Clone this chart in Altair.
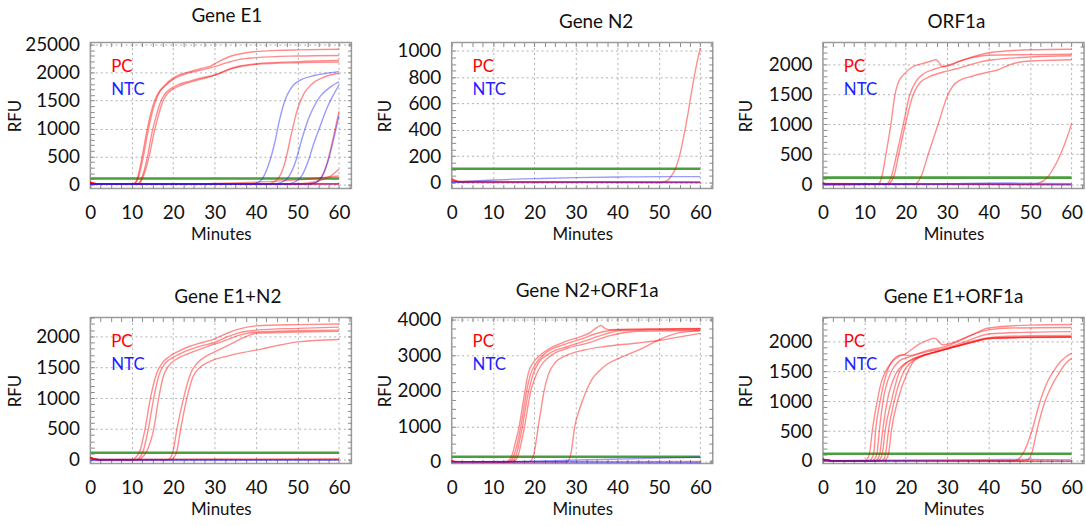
import altair as alt
import pandas as pd

FONT = "Lato"
RED = "#ff0000"
BLUE = "#1f1fff"
GREEN = "#4a9e3f"
FRAME = "#9a9a9a"
PANEL_W = 263
PANEL_H = 147

# ---------------- shared x axis (minutes) ----------------
MINUTES_TICKS = [0, 10, 20, 30, 40, 50, 60]
MINUTES_MINOR = [i * 2.5 for i in range(26)]
THRESHOLD_SPAN = [0, 60]

# ---------------- Gene E1 ----------------
E1_PC_1 = [(0, 40), (1, 15), (3, 5), (10, 5), (10.8, 30), (11.5, 150), (12.5, 500), (13.5, 900), (14.5, 1250),
           (15.5, 1500), (16.5, 1650), (17.5, 1740), (19, 1850), (21, 1950), (24, 2020), (27, 2080), (29, 2120),
           (31, 2200), (34, 2300), (37, 2350), (40, 2380), (45, 2400), (50, 2410), (60, 2420)]
E1_PC_2 = [(0, 40), (1, 15), (3, 5), (10, 5), (11, 30), (11.7, 150), (12.8, 500), (13.8, 900), (14.8, 1250),
           (15.8, 1500), (16.8, 1660), (18, 1760), (20, 1880), (23, 1980), (27, 2050), (30, 2110), (33, 2180),
           (36, 2240), (40, 2270), (50, 2300), (60, 2310)]
E1_PC_3 = [(0, 40), (1, 15), (3, 5), (11, 5), (11.8, 30), (12.6, 150), (13.8, 500), (14.8, 900), (15.8, 1200),
           (16.8, 1450), (18, 1620), (19.5, 1720), (21, 1780), (24, 1850), (27, 1910), (30, 1960), (33, 2050),
           (36, 2120), (40, 2160), (50, 2200), (60, 2220)]
E1_PC_4 = [(0, 40), (1, 15), (3, 5), (11.2, 5), (12, 30), (12.8, 150), (14.2, 500), (15.3, 900), (16.3, 1200),
           (17.3, 1450), (18.5, 1620), (20, 1710), (22, 1780), (25, 1850), (28, 1910), (31, 1980), (34, 2070),
           (37, 2120), (40, 2150), (50, 2180), (60, 2190)]
E1_PC_5 = [(0, 20), (2, 0), (42, 0), (44, 30), (45.5, 120), (47, 400), (48.5, 900), (50, 1350), (51.5, 1620),
           (53.5, 1800), (56, 1910), (60, 1990)]
E1_PC_6 = [(0, 20), (2, 0), (52, 0), (54, 20), (55.5, 100), (57, 350), (58.5, 800), (60, 1310)]
E1_PC_7 = [(0, 20), (2, 0), (48, 0), (52, 20), (55, 60), (58, 150), (60, 270)]
E1_PC_8 = [(0, 20), (2, 0), (20, 5), (30, 15), (40, 40), (50, 80), (60, 150)]
E1_PC_9 = [(0, 35), (1, 10), (3, 0), (60, 0)]
E1_PC_10 = [(0, 30), (2, 5), (60, 10)]
E1_NTC_1 = [(0, 5), (38, 5), (40, 20), (41.5, 100), (43, 350), (44.5, 750), (45.5, 1100), (46.5, 1400),
            (47.5, 1600), (49, 1780), (51, 1880), (54, 1950), (57, 1990), (60, 2020)]
E1_NTC_2 = [(0, 5), (44, 5), (46, 30), (48, 150), (49.5, 400), (51, 800), (52.5, 1150), (54, 1400),
            (55.5, 1580), (57.5, 1720), (60, 1840)]
E1_NTC_3 = [(0, 5), (47, 5), (49, 30), (51, 150), (52.5, 400), (54, 750), (55.5, 1050), (57, 1350),
            (58.5, 1580), (60, 1780)]
E1_NTC_4 = [(0, 5), (52, 5), (54, 20), (56, 150), (57.5, 450), (59, 900), (60, 1230)]
E1_NTC_5 = [(0, 10), (60, 10)]
E1_THRESHOLD = 105

# ---------------- Gene N2 ----------------
N2_PC_1 = [(0, 25), (1, 10), (3, 0), (50, 0), (52, 15), (53, 50), (54, 105), (55, 205), (56, 350), (57, 520),
           (58, 710), (59, 880), (60, 1020)]
N2_PC_2 = [(0, 30), (0.7, 20), (2, 5), (60, 0)]
N2_PC_3 = [(0, 20), (2, 5), (20, 5), (60, 3)]
N2_PC_4 = [(0, 10), (60, 8)]
N2_NTC_1 = [(0, 0), (2, 5), (10, 20), (20, 30), (30, 38), (40, 42), (50, 45), (60, 45)]
N2_NTC_2 = [(0, 5), (60, 0)]
N2_THRESHOLD = 105

# ---------------- ORF1a ----------------
ORF_PC_1 = [(0, 20), (1, 5), (13, 0), (13.6, 20), (14.3, 150), (15.2, 500), (16.4, 1000), (17.4, 1500),
            (18.2, 1700), (19.5, 1830), (21.5, 1950), (24, 2010), (26, 2050), (27.3, 2075), (28, 2030),
            (28.7, 1965), (29.5, 1960), (31, 1990), (33, 2050), (36, 2120), (40, 2190), (45, 2225), (50, 2240),
            (60, 2250)]
ORF_PC_2 = [(0, 20), (1, 5), (15, 0), (15.8, 30), (16.6, 150), (17.8, 500), (19.4, 1000), (21, 1500),
            (22.5, 1720), (24.5, 1850), (27, 1920), (30, 1980), (33, 2050), (36, 2110), (40, 2150), (50, 2160),
            (60, 2165)]
ORF_PC_3 = [(0, 20), (1, 5), (15.5, 0), (16.3, 30), (17.2, 150), (18.3, 500), (19.9, 1000), (21.8, 1500),
            (23.5, 1700), (26, 1800), (29, 1870), (32, 1920), (35, 1980), (38, 2040), (42, 2080), (50, 2120),
            (60, 2140)]
ORF_PC_4 = [(0, 20), (1, 5), (22, 0), (22.8, 30), (23.8, 150), (25.4, 500), (27.8, 1000), (30.2, 1500),
            (31.5, 1650), (33, 1730), (36, 1800), (40, 1870), (42, 1900), (45, 1990), (48, 2040), (52, 2060),
            (60, 2075)]
ORF_PC_5 = [(0, 20), (1, 5), (50, 0), (52, 20), (54, 100), (55.5, 250), (57, 450), (58.5, 700), (60, 1010)]
ORF_PC_6 = [(0, 25), (1, 5), (60, 0)]
ORF_PC_7 = [(0, 15), (60, -10)]
ORF_NTC_1 = [(0, 5), (2, -15), (10, -5), (30, 10), (45, 20), (60, 10)]
ORF_NTC_2 = [(0, 0), (60, -5)]
ORF_THRESHOLD = 110

# ---------------- Gene E1+N2 ----------------
E1N2_PC_1 = [(0, 40), (1, 10), (3, 0), (10, 0), (10.8, 30), (12, 150), (13.2, 500), (14.5, 1000), (16, 1400),
             (17.5, 1580), (19, 1670), (21, 1750), (24, 1840), (27, 1900), (30, 1960), (33, 2050), (36, 2120),
             (40, 2170), (50, 2190), (60, 2200)]
E1N2_PC_2 = [(0, 40), (1, 10), (3, 0), (11, 0), (11.8, 30), (12.8, 150), (14, 500), (15.3, 1000), (16.6, 1380),
             (18, 1560), (20, 1660), (23, 1760), (27, 1850), (30, 1900), (33, 1990), (36, 2060), (40, 2100),
             (50, 2130), (60, 2150)]
E1N2_PC_3 = [(0, 40), (1, 10), (3, 0), (11.5, 0), (12.3, 30), (13.7, 150), (15.3, 500), (16.5, 1000),
             (17.6, 1350), (19, 1530), (21, 1640), (24, 1730), (28, 1830), (32, 1920), (36, 2020), (40, 2070),
             (50, 2090), (60, 2100)]
E1N2_PC_4 = [(0, 40), (1, 10), (3, 0), (18.5, 0), (19.3, 30), (20, 150), (20.9, 500), (22.5, 1000),
             (24.2, 1400), (25.7, 1560), (28, 1680), (31, 1780), (34, 1880), (37, 1980), (40, 2050), (50, 2070),
             (60, 2080)]
E1N2_PC_5 = [(0, 40), (1, 10), (3, 0), (19.3, 0), (20.1, 30), (20.9, 150), (21.8, 500), (23.3, 1000),
             (24.8, 1350), (26.5, 1500), (29, 1600), (33, 1680), (37, 1740), (41, 1790), (45, 1850), (50, 1910),
             (60, 1950)]
E1N2_PC_6 = [(0, 40), (1, 20), (3, 5), (60, 5)]
E1N2_PC_7 = [(0, 25), (3, 5), (30, 10), (60, 15)]
E1N2_NTC_1 = [(0, -10), (60, -5)]
E1N2_NTC_2 = [(0, 5), (60, 0)]
E1N2_THRESHOLD = 115

# ---------------- Gene N2+ORF1a ----------------
N2ORF_PC_1 = [(0, 20), (1, 5), (13, 0), (13.8, 40), (14.6, 200), (15.5, 600), (16.3, 1000), (17, 1500),
              (17.7, 2000), (18.5, 2500), (19.7, 2800), (21.3, 3000), (23.7, 3200), (27.7, 3400), (31, 3520),
              (33.5, 3650), (35, 3780), (36, 3840), (37, 3760), (38, 3720), (42, 3740), (60, 3760)]
N2ORF_PC_2 = [(0, 20), (1, 5), (13.5, 0), (14.3, 40), (15.1, 200), (16, 600), (16.7, 1000), (17.4, 1500),
              (18.1, 2000), (19, 2450), (20.5, 2800), (23, 3100), (27, 3300), (31, 3450), (36, 3650), (40, 3720),
              (50, 3740), (60, 3750)]
N2ORF_PC_3 = [(0, 20), (1, 5), (14, 0), (14.8, 40), (15.6, 200), (16.4, 600), (17.1, 1000), (17.8, 1500),
              (18.6, 2000), (19.6, 2450), (21, 2800), (23.5, 3050), (28, 3250), (32, 3400), (37, 3600),
              (41, 3700), (50, 3720), (60, 3730)]
N2ORF_PC_4 = [(0, 20), (1, 5), (14.5, 0), (15.3, 40), (16.1, 200), (16.9, 600), (17.6, 1000), (18.3, 1500),
              (19.1, 2000), (20.2, 2400), (21.5, 2700), (24, 3000), (28, 3200), (33, 3350), (38, 3550),
              (45, 3680), (60, 3700)]
N2ORF_PC_5 = [(0, 20), (1, 5), (18.5, 0), (19.2, 40), (19.8, 200), (20.4, 600), (20.9, 1000), (21.6, 1500),
              (22.3, 2000), (23.3, 2450), (25, 2800), (27.7, 3000), (32, 3150), (37, 3250), (45, 3350),
              (50, 3420), (55, 3520), (60, 3620)]
N2ORF_PC_6 = [(0, 20), (1, 5), (27.5, 0), (28.2, 40), (28.8, 250), (29.7, 1000), (30.9, 1500), (32.5, 2000),
              (34, 2350), (35.5, 2550), (37.5, 2750), (40, 2900), (43, 3050), (46, 3200), (49, 3380),
              (51.8, 3530), (55, 3640), (60, 3690)]
N2ORF_PC_7 = [(0, 30), (2, 5), (60, 10)]
N2ORF_NTC_1 = [(0, -10), (20, -5), (40, -15), (60, -20)]
N2ORF_NTC_2 = [(0, 5), (15, 10), (30, 50), (45, 90), (60, 130)]
N2ORF_THRESHOLD = 140

# ---------------- Gene E1+ORF1a ----------------
E1ORF_PC_1 = [(0, 30), (1, 10), (3, 0), (10, 0), (10.7, 30), (11.3, 150), (11.9, 500), (13.1, 1000),
              (14, 1300), (15.1, 1500), (16.5, 1650), (18, 1740), (20, 1800), (23, 1950), (25.5, 2030),
              (27, 2060), (28, 2000), (28.8, 1950), (30, 1960), (33, 2030), (36, 2120), (40, 2200), (45, 2230),
              (60, 2240)]
E1ORF_PC_2 = [(0, 30), (1, 10), (3, 0), (11, 0), (11.7, 30), (12.3, 150), (12.7, 500), (13.8, 1000),
              (15.5, 1500), (17, 1700), (19, 1780), (20.5, 1770), (22, 1780), (25, 1850), (30, 1930),
              (35, 2080), (40, 2230), (50, 2280), (60, 2290)]
E1ORF_PC_3 = [(0, 30), (1, 10), (3, 0), (11.8, 0), (12.5, 30), (13.1, 150), (13.6, 500), (14.5, 1000),
              (16.5, 1500), (18.5, 1680), (21, 1750), (25, 1830), (30, 1900), (35, 2020), (40, 2130), (50, 2160),
              (60, 2170)]
E1ORF_PC_4 = [(0, 30), (1, 10), (3, 0), (12.5, 0), (13.2, 30), (13.8, 150), (14.4, 500), (15.5, 1000),
              (17.5, 1450), (19.5, 1620), (21.5, 1700), (25, 1790), (30, 1880), (35, 1990), (40, 2070),
              (50, 2100), (60, 2105)]
E1ORF_PC_5 = [(0, 30), (1, 10), (3, 0), (13, 0), (13.8, 30), (14.4, 150), (15, 500), (16.5, 1000),
              (18.5, 1500), (20, 1640), (22, 1720), (26, 1810), (30, 1880), (35, 1970), (40, 2050), (50, 2075),
              (60, 2080)]
E1ORF_PC_6 = [(0, 30), (1, 10), (3, 0), (14, 0), (14.7, 30), (15.2, 150), (15.8, 500), (17.2, 1000),
              (19.5, 1500), (21, 1640), (23, 1730), (27, 1820), (31, 1900), (36, 1990), (40, 2060), (50, 2080),
              (60, 2085)]
E1ORF_PC_7 = [(0, 30), (1, 10), (3, 0), (14.5, 0), (15.3, 30), (15.9, 150), (16.5, 500), (18, 1000),
              (20.5, 1500), (22, 1680), (24, 1760), (28, 1840), (32, 1920), (37, 2010), (41, 2060), (50, 2070),
              (60, 2075)]
E1ORF_PC_8 = [(0, 30), (1, 10), (3, 0), (46, 0), (47.2, 30), (48.5, 150), (50.4, 500), (52.4, 1000),
              (54, 1300), (55.6, 1500), (57.5, 1680), (60, 1810)]
E1ORF_PC_9 = [(0, 30), (1, 10), (3, 0), (48.5, 0), (49.6, 30), (50.5, 150), (51.6, 500), (53.6, 1000),
              (55.5, 1300), (57.2, 1500), (58.6, 1640), (60, 1720)]
E1ORF_PC_10 = [(0, 25), (2, 5), (60, 0)]
E1ORF_NTC_1 = [(0, 0), (20, 10), (40, 20), (50, 25), (60, 15)]
E1ORF_NTC_2 = [(0, -5), (60, -10)]
E1ORF_THRESHOLD = 118

LEGEND_LABELS = ["PC", "NTC"]


def curves_frame(pc, ntc):
    rows = []
    for kind, group in (("PC", pc), ("NTC", ntc)):
        for i, curve in enumerate(group):
            for t, v in curve:
                rows.append({"t": t, "v": v, "curve": f"{kind}{i}", "kind": kind})
    return pd.DataFrame(rows)


def tick_axis(orient, values, offset):
    # small inward ticks drawn along one edge of the frame
    return alt.Axis(orient=orient, values=values, labels=False, grid=False, domain=False, ticks=True,
                    tickSize=4, tickColor="#8a8a8a", tickWidth=1, offset=offset, title=None,
                    minExtent=0, maxExtent=0)


def panel(title, pc, ntc, threshold, y_domain, y_major, y_minor, title_pad, title_dx,
          label_expr="datum.label"):
    xs = alt.Scale(domain=[0, 63], nice=False, zero=False)
    ys = alt.Scale(domain=y_domain, nice=False, zero=False)

    thr = pd.DataFrame({"t": THRESHOLD_SPAN, "v": [threshold, threshold]})

    # threshold line; carries the inward ticks of the bottom and left edges
    green = alt.Chart(thr).mark_line(color=GREEN, strokeWidth=2.6).encode(
        x=alt.X("t:Q", scale=xs, axis=tick_axis("bottom", MINUTES_MINOR, -4)),
        y=alt.Y("v:Q", scale=ys, axis=tick_axis("left", y_minor, -4)),
    )
    # invisible copy; carries the inward ticks of the top and right edges
    frame_ticks = alt.Chart(thr).mark_line(strokeOpacity=0).encode(
        x=alt.X("t:Q", scale=xs, axis=tick_axis("bottom", MINUTES_MINOR, -PANEL_H)),
        y=alt.Y("v:Q", scale=ys, axis=tick_axis("left", y_minor, -PANEL_W)),
    )

    lines = alt.Chart(curves_frame(pc, ntc)).mark_line(
        interpolate="monotone", strokeWidth=1.4, opacity=0.45
    ).encode(
        x=alt.X("t:Q", scale=xs, axis=alt.Axis(
            orient="bottom", values=MINUTES_TICKS, title="Minutes", grid=True, gridDash=[2, 3],
            gridColor="#b0b0b0", gridWidth=1, ticks=False, domain=False, labelFont=FONT, labelFontSize=19,
            labelColor="#111", labelPadding=15, labelFlush=False, labelOverlap=False, titleFont=FONT,
            titleFontSize=17, titleFontWeight="normal", titleColor="#111", titlePadding=4)),
        y=alt.Y("v:Q", scale=ys, axis=alt.Axis(
            orient="left", values=y_major, format="d", title="RFU", grid=True, gridDash=[2, 3],
            gridColor="#b0b0b0", gridWidth=1, ticks=False, domain=False, labelFont=FONT, labelFontSize=19,
            labelColor="#111", labelPadding=11, labelFlush=False, labelOverlap=False, labelExpr=label_expr,
            titleFont=FONT, titleFontSize=17, titleFontWeight="normal", titleColor="#111",
            titlePadding=title_pad, minExtent=50, maxExtent=50)),
        color=alt.Color("kind:N", scale=alt.Scale(domain=LEGEND_LABELS, range=[RED, BLUE]), legend=None),
        detail="curve:N",
    )

    pc_text = alt.Chart(pd.DataFrame({"label": [LEGEND_LABELS[0]]})).mark_text(
        align="left", baseline="middle", font=FONT, fontSize=17, color=RED
    ).encode(text="label:N", x=alt.value(21), y=alt.value(24.5))
    ntc_text = alt.Chart(pd.DataFrame({"label": [LEGEND_LABELS[1]]})).mark_text(
        align="left", baseline="middle", font=FONT, fontSize=17, color=BLUE
    ).encode(text="label:N", x=alt.value(21), y=alt.value(47.5))

    return alt.layer(green, frame_ticks, lines, pc_text, ntc_text).resolve_axis(
        x="independent", y="independent"
    ).properties(
        width=PANEL_W, height=PANEL_H,
        title=alt.TitleParams(title, font=FONT, fontSize=19, fontWeight="normal", color="#111", offset=10,
                              dx=title_dx),
    )


p1 = panel("Gene E1",
           [E1_PC_1, E1_PC_2, E1_PC_3, E1_PC_4, E1_PC_5, E1_PC_6, E1_PC_7, E1_PC_8, E1_PC_9, E1_PC_10],
           [E1_NTC_1, E1_NTC_2, E1_NTC_3, E1_NTC_4, E1_NTC_5],
           E1_THRESHOLD, [-75, 2540], list(range(0, 2501, 500)), list(range(0, 2501, 100)), 16, 6,
           "datum.value == 2500 ? '25000' : datum.label")
p2 = panel("Gene N2", [N2_PC_1, N2_PC_2, N2_PC_3, N2_PC_4], [N2_NTC_1, N2_NTC_2],
           N2_THRESHOLD, [-45, 1062], list(range(0, 1001, 200)), list(range(0, 1001, 50)), 8, 14)
p3 = panel("ORF1a", [ORF_PC_1, ORF_PC_2, ORF_PC_3, ORF_PC_4, ORF_PC_5, ORF_PC_6, ORF_PC_7],
           [ORF_NTC_1, ORF_NTC_2],
           ORF_THRESHOLD, [-71, 2360], list(range(0, 2001, 500)), list(range(0, 2301, 100)), 18, 3)
p4 = panel("Gene E1+N2", [E1N2_PC_1, E1N2_PC_2, E1N2_PC_3, E1N2_PC_4, E1N2_PC_5, E1N2_PC_6, E1N2_PC_7],
           [E1N2_NTC_1, E1N2_NTC_2],
           E1N2_THRESHOLD, [-59, 2304], list(range(0, 2001, 500)), list(range(0, 2301, 100)), 16, 7)
p5 = panel("Gene N2+ORF1a",
           [N2ORF_PC_1, N2ORF_PC_2, N2ORF_PC_3, N2ORF_PC_4, N2ORF_PC_5, N2ORF_PC_6, N2ORF_PC_7],
           [N2ORF_NTC_1, N2ORF_NTC_2],
           N2ORF_THRESHOLD, [-48, 4065], list(range(0, 4001, 1000)), list(range(0, 4001, 250)), 8, 5)
p6 = panel("Gene E1+ORF1a",
           [E1ORF_PC_1, E1ORF_PC_2, E1ORF_PC_3, E1ORF_PC_4, E1ORF_PC_5, E1ORF_PC_6, E1ORF_PC_7,
            E1ORF_PC_8, E1ORF_PC_9, E1ORF_PC_10],
           [E1ORF_NTC_1, E1ORF_NTC_2],
           E1ORF_THRESHOLD, [-45, 2406], list(range(0, 2001, 500)), list(range(0, 2401, 100)), 18, 0)

row1 = alt.hconcat(p1, p2, p3, spacing=22)
row2 = alt.hconcat(p4, p5, p6, spacing=22)

chart = alt.vconcat(row1, row2, spacing=38).properties(
    padding={"left": 6, "top": 4, "right": 0, "bottom": 0},
    background="white",
).configure_view(stroke=FRAME, strokeWidth=1.5)

chart.save("out.html", embed_options={"renderer": "svg", "actions": False})
